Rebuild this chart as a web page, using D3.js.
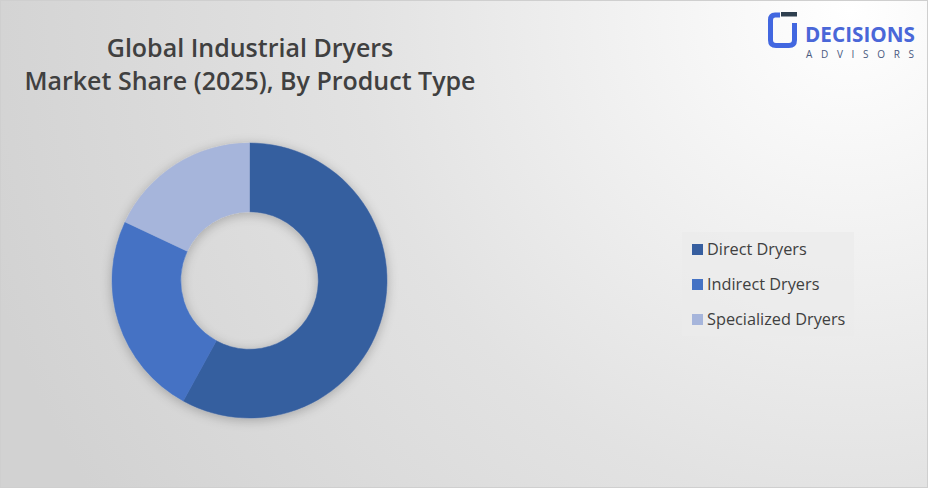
<!DOCTYPE html>
<html><head><meta charset="utf-8">
<script src="https://cdn.jsdelivr.net/npm/d3@7"></script>
<style>html,body{margin:0;padding:0;overflow:hidden;background:#fff}</style>
</head><body>
<script>
const categories = ["Direct Dryers", "Indirect Dryers", "Specialized Dryers"];
const shares = [58, 24, 18];
const colors = ["#365E9F", "#4472C4", "#A6B5DB"];
const titleLines = ["Global Industrial Dryers", "Market Share (2025), By Product Type"];

const W = 928, H = 488;
const svg = d3.select("body").append("svg").attr("width", W).attr("height", H);
const defs = svg.append("defs");
const bg = defs.append("radialGradient").attr("id", "bg")
  .attr("gradientUnits", "userSpaceOnUse").attr("cx", 850).attr("cy", 10).attr("r", 900);
bg.append("stop").attr("offset", "0").attr("stop-color", "#ffffff");
bg.append("stop").attr("offset", "0.55").attr("stop-color", "#e2e2e2");
bg.append("stop").attr("offset", "1").attr("stop-color", "#d2d2d2");
svg.append("rect").attr("width", W).attr("height", H).attr("fill", "url(#bg)");
svg.append("rect").attr("x", 0.5).attr("y", 0.5).attr("width", W - 1).attr("height", H - 1)
  .attr("fill", "none").attr("stroke", "#cfcfcf");

// Title
svg.append("text").attr("x", 250).attr("y", 57).attr("text-anchor", "middle")
  .style("font-family", "'Open Sans', sans-serif").style("font-weight", 600)
  .style("font-size", "25px").attr("fill", "#404040")
  .selectAll("tspan").data(titleLines).join("tspan")
  .attr("x", 250).attr("dy", (d, i) => i ? 33 : 0).text(d => d);

// Donut
const cx = 249.5, cy = 280.5, R = 137.5, r0 = 68.8;
const pie = d3.pie().sort(null).value(d => d.v);
const arc = d3.arc().innerRadius(r0).outerRadius(R);
const data = categories.map((c, i) => ({ c, v: shares[i], col: colors[i] }));
const shadow = defs.append("filter").attr("id", "sh").attr("x", "-30%").attr("y", "-30%").attr("width", "160%").attr("height", "160%");
shadow.append("feGaussianBlur").attr("in", "SourceAlpha").attr("stdDeviation", 6);
shadow.append("feOffset").attr("dx", 0).attr("dy", 2).attr("result", "b");
shadow.append("feComponentTransfer").append("feFuncA").attr("type", "linear").attr("slope", 0.25);
const fm = shadow.append("feMerge");
fm.append("feMergeNode");
fm.append("feMergeNode").attr("in", "SourceGraphic");
const g = svg.append("g").attr("transform", `translate(${cx},${cy})`).attr("filter", "url(#sh)");
g.selectAll("path").data(pie(data)).join("path").attr("d", arc).attr("fill", d => d.data.col)
  .attr("stroke", d => d.data.col).attr("stroke-width", 0.5);

// Legend
const lg = svg.append("g");
lg.append("rect").attr("x", 682).attr("y", 232).attr("width", 172).attr("height", 104)
  .attr("fill", "#ebebeb").attr("opacity", 0.7);
const ly = d3.scalePoint().domain(categories).range([249, 319]);
const items = lg.selectAll("g").data(data).join("g")
  .attr("transform", d => `translate(0,${ly(d.c)})`);
items.append("rect").attr("x", 692).attr("y", -5).attr("width", 11).attr("height", 11).attr("fill", d => d.col);
items.append("text").attr("x", 707).attr("y", 6).text(d => d.c)
  .style("font-family", "'Open Sans', sans-serif").style("font-size", "16.3px").attr("fill", "#404040");

// Logo
const logo = svg.append("g").attr("transform", "translate(768,12)");
logo.append("path").attr("d", "M12 3 H7 Q2.5 3 2.5 8 V28 Q2.5 33.5 8 33.5 H21 Q26.5 33.5 26.5 28 V11")
  .attr("fill", "none").attr("stroke", "#4267e0").attr("stroke-width", 5).attr("stroke-linejoin", "round");
logo.append("rect").attr("x", 13).attr("y", 0).attr("width", 16).attr("height", 4.5).attr("fill", "#2e3f4f");
logo.append("text").attr("x", 37).attr("y", 30).text("DECISIONS")
  .attr("textLength", 110).attr("lengthAdjust", "spacingAndGlyphs")
  .style("font-family", "'Open Sans', sans-serif").style("font-weight", 700).style("font-size", "22px")
  .attr("fill", "#4a67d8");
logo.append("text").attr("x", 38).attr("y", 46).text("ADVISORS")
  .attr("textLength", 108).attr("lengthAdjust", "spacing")
  .style("font-family", "'Open Sans', sans-serif").style("font-size", "10px")
  .attr("fill", "#4a5a80");
</script>
</body></html>
